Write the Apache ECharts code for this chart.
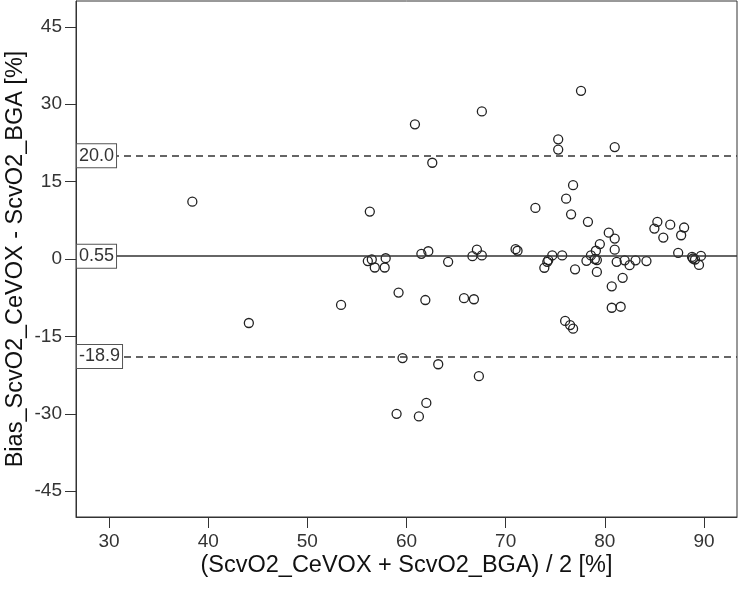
<!DOCTYPE html>
<html>
<head>
<meta charset="utf-8">
<script src="https://cdn.jsdelivr.net/npm/echarts@6/dist/echarts.min.js"></script>
<style>
html,body{margin:0;padding:0;background:#fff;}
#chart{width:740px;height:592px;}
</style>
</head>
<body>
<div id="chart"></div>
<script>
// Mean of the two methods (x) and their difference (y)
const meanValues = [38.4,44.1,53.4,56.3,56.1,56.5,56.8,57.9,57.8,59.2,59.6,59.0,60.85,61.25,61.5,62.2,61.9,62.6,62.0,63.2,
  64.2,65.8,66.8,66.65,67.1,67.6,67.6,67.3,71.0,71.2,73.0,73.9,74.2,74.3,74.7,75.3,75.3,75.7,76.0,76.5,
  76.8,76.1,76.8,76.6,77.0,77.6,78.3,78.15,78.6,79.1,79.5,79.0,79.2,79.2,80.4,81.0,81.0,81.2,81.0,80.7,
  80.7,81.6,81.8,82.0,82.5,83.1,84.2,85.0,85.3,85.9,86.6,87.7,88.0,87.4,88.8,88.9,89.1,89.7,89.5];
const biasValues = [11.1,-12.4,-8.9,9.2,-0.4,-0.1,-1.65,0.15,-1.65,-6.5,-19.2,-30.0,26.1,-30.5,1.0,1.5,-7.95,18.65,-27.9,-20.4,
  -0.55,-7.6,-7.8,0.55,1.8,0.7,28.6,-22.7,1.9,1.6,9.9,-1.7,-0.55,-0.2,0.7,23.2,21.2,0.7,-12.0,-12.8,
  -13.5,11.7,14.3,8.65,-2.0,32.6,7.2,-0.35,0.7,1.6,2.9,0.0,-0.2,-2.5,5.1,3.95,1.8,-0.55,21.7,-5.3,
  -9.45,-9.25,-3.65,-0.25,-1.2,-0.25,-0.4,5.9,7.2,4.15,6.65,4.6,6.1,1.2,0.4,0.1,-0.1,0.6,-1.15];
// Reference lines: upper limit, mean bias, lower limit
const refValues = [20.0, 0.55, -18.9];
const refLabels = ['20.0', '0.55', '-18.9'];
const refDashed = [true, false, true];
const xTicks = [30, 40, 50, 60, 70, 80, 90];
const yTicks = [-45, -30, -15, 0, 15, 30, 45];
const xTitle = '(ScvO2_CeVOX + ScvO2_BGA) / 2 [%]';
const yTitle = 'Bias_ScvO2_CeVOX - ScvO2_BGA [%]';

const FONT = 'Arial, "Liberation Sans", sans-serif';
const points = meanValues.map((x, i) => [x, biasValues[i]]);

const markData = refValues.map((v, i) => ({
  yAxis: v,
  lineStyle: { type: refDashed[i] ? [7, 5] : 'solid', width: refDashed[i] ? 1.6 : 1.5, color: '#333' },
  label: {
    show: true,
    formatter: refLabels[i],
    position: 'insideStartTop',
    distance: [1, 0],
    align: 'left',
    verticalAlign: 'middle',
    fontFamily: FONT,
    fontSize: 18,
    color: '#333',
    backgroundColor: '#fff',
    borderColor: '#555',
    borderWidth: 1,
    padding: [3, 2, 2, 2]
  }
}));

const chart = echarts.init(document.getElementById('chart'), null, { renderer: 'canvas' });
chart.setOption({
  animation: false,
  backgroundColor: '#fff',
  grid: { left: 76, right: 3, top: 1, bottom: 75, containLabel: false, outerBoundsMode: 'none',
          show: true, borderColor: '#333', borderWidth: 1, backgroundColor: 'transparent' },
  xAxis: {
    type: 'value', min: 26.667, max: 93.333,
    name: xTitle, nameLocation: 'middle', nameGap: 37, nameMoveOverlap: false,
    nameTextStyle: { fontFamily: FONT, fontSize: 23.5, color: '#111' },
    axisLine: { show: true, onZero: false, lineStyle: { color: '#333', width: 1 } },
    axisTick: { show: true, length: 11, customValues: xTicks, lineStyle: { color: '#333' } },
    axisLabel: { customValues: xTicks, margin: 15, fontFamily: FONT, fontSize: 19, color: '#333' },
    splitLine: { show: false }
  },
  yAxis: {
    type: 'value', min: -50, max: 50,
    name: yTitle, nameLocation: 'middle', nameGap: 48, nameMoveOverlap: false,
    nameTextStyle: { fontFamily: FONT, fontSize: 23.5, color: '#111' },
    axisLine: { show: true, onZero: false, lineStyle: { color: '#333', width: 1 } },
    axisTick: { show: true, length: 11, customValues: yTicks, lineStyle: { color: '#333' } },
    axisLabel: { customValues: yTicks, margin: 14, fontFamily: FONT, fontSize: 19, color: '#333' },
    splitLine: { show: false }
  },
  series: [{
    type: 'scatter',
    data: points,
    symbol: 'circle',
    symbolSize: 9,
    itemStyle: { color: 'transparent', borderColor: '#222', borderWidth: 1.3, opacity: 1 },
    emphasis: { disabled: true },
    markLine: { silent: true, symbol: 'none', animation: false, data: markData },
    z: 3
  }]
});
</script>
</body>
</html>
